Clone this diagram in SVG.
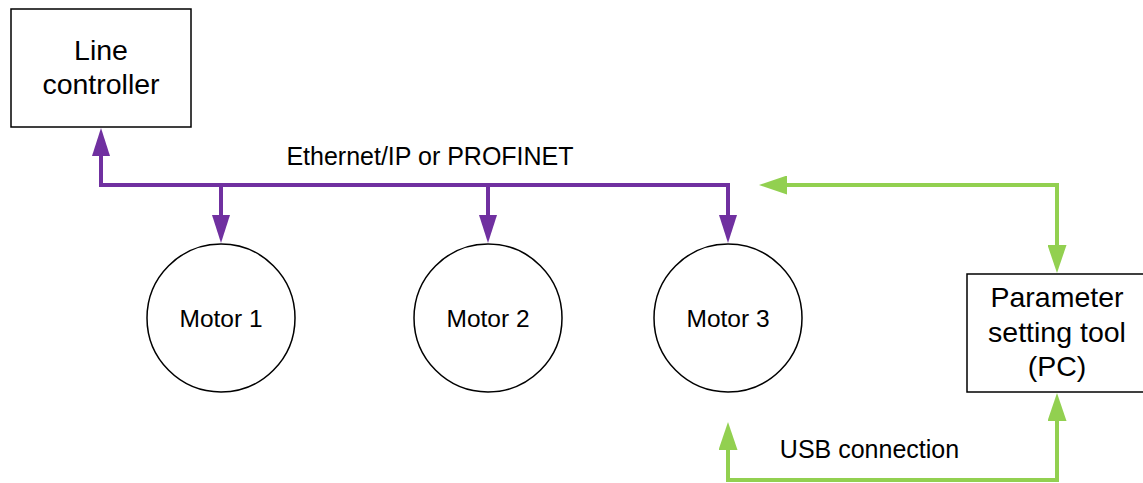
<svg xmlns="http://www.w3.org/2000/svg" width="1143" height="483" viewBox="0 0 1143 483">
<style>
.box{fill:#fff;stroke:#000;stroke-width:1.5}
.t{font-family:"Liberation Sans",Arial,sans-serif;fill:#000;text-anchor:middle}
.big{font-size:28.5px}
.sm{font-size:25px}
.m{font-size:24.5px}
.p{fill:none;stroke:#7030A0;stroke-width:4}
.g{fill:none;stroke:#92D050;stroke-width:4}
</style>
<defs>
<marker id="ap" markerUnits="userSpaceOnUse" markerWidth="28" markerHeight="18" refX="0" refY="9" orient="auto-start-reverse" viewBox="0 0 28 18">
<path d="M0,0 L28,9 L0,18 z" fill="#7030A0"/>
</marker>
<marker id="ag" markerUnits="userSpaceOnUse" markerWidth="28" markerHeight="19" refX="0" refY="9.5" orient="auto-start-reverse" viewBox="0 0 28 19">
<path d="M0,0 L28,9.5 L0,19 z" fill="#92D050"/>
</marker>
</defs>
<g id="connectors">
<path class="p" d="M101,156 L101,185 L728,185 L728,215" marker-start="url(#ap)" marker-end="url(#ap)"/>
<path class="p" d="M221,185 L221,215" marker-end="url(#ap)"/>
<path class="p" d="M488,185 L488,215" marker-end="url(#ap)"/>
<path class="g" d="M787,185 L1057,185 L1057,245" marker-start="url(#ag)" marker-end="url(#ag)"/>
<path class="g" d="M728,450 L728,480 L1057,480 L1057,421" marker-start="url(#ag)" marker-end="url(#ag)"/>
<text class="t sm" x="430" y="165">Ethernet/IP or PROFINET</text>
<text class="t sm" x="869.5" y="458">USB connection</text>
</g>
<g id="line-controller">
<rect class="box" x="11" y="9" width="180" height="118"/>
<text class="t big" x="101" y="60">Line</text>
<text class="t big" x="101" y="94">controller</text>
</g>
<g id="motor1">
<circle class="box" cx="221" cy="318" r="74"/>
<text class="t m" x="221" y="327">Motor 1</text>
</g>
<g id="motor2">
<circle class="box" cx="488" cy="318" r="74"/>
<text class="t m" x="488" y="327">Motor 2</text>
</g>
<g id="motor3">
<circle class="box" cx="728" cy="318" r="74"/>
<text class="t m" x="728" y="327">Motor 3</text>
</g>
<g id="parameter-tool">
<rect class="box" x="967" y="274" width="182" height="118"/>
<text class="t big" x="1057" y="307">Parameter</text>
<text class="t big" x="1057" y="342">setting tool</text>
<text class="t big" x="1057" y="376">(PC)</text>
</g>
</svg>
